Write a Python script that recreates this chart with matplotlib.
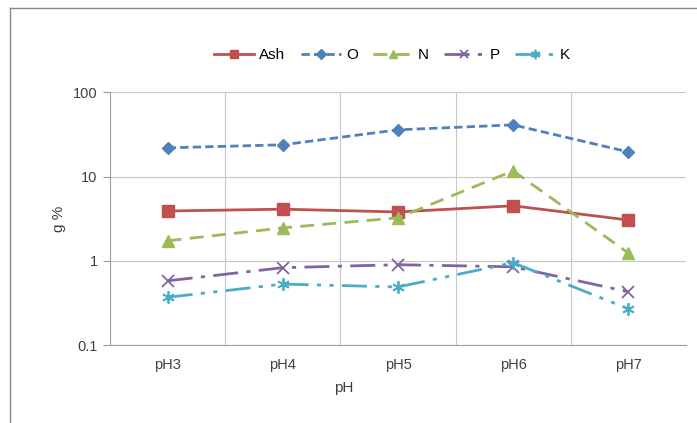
import matplotlib.pyplot as plt
from matplotlib.lines import Line2D

plt.rcParams['font.family'] = ['Liberation Sans', 'DejaVu Sans']

# data
categories = ['pH3', 'pH4', 'pH5', 'pH6', 'pH7']
ash = [3.9, 4.1, 3.8, 4.5, 3.05]
o = [21.9, 23.8, 35.8, 41.0, 19.6]
n = [1.73, 2.46, 3.24, 11.7, 1.24]
p = [0.58, 0.83, 0.90, 0.85, 0.43]
k = [0.37, 0.53, 0.49, 0.95, 0.27]

fig = plt.figure(figsize=(6.97, 4.23), dpi=100)
ax = fig.add_axes([0.158, 0.184, 0.826, 0.598])

x = range(len(categories))
ax.plot(x, ash, color='#C0504D', lw=2, marker='s', ms=8, label='Ash')
ax.plot(x, o, color='#4F81BD', lw=2, ls=(0, (3, 1.5)), marker='D', ms=6.5, label='O')
ax.plot(x, n, color='#9BBB59', lw=2, ls=(0, (5, 3)), marker='^', ms=8, label='N')
ax.plot(x, p, color='#8064A2', lw=2, ls=(0, (9, 3, 1.5, 3)), marker='x', ms=8, mew=1.3, label='P')
ax.plot(x, k, color='#4BACC6', lw=2, ls=(0, (9, 3, 1.5, 3, 1.5, 3)), marker=(6, 2, 0), ms=9, mew=1.3, label='K')

ax.set_yscale('log')
ax.set_ylim(0.1, 100)
ax.set_xlim(-0.5, 4.5)
ax.set_xticks(list(x))
ax.set_xticklabels(categories)
ax.set_yticks([0.1, 1, 10, 100])
ax.set_yticklabels(['0.1', '1', '10', '100'])
ax.yaxis.set_minor_locator(plt.NullLocator())
ax.set_xticks([0.5, 1.5, 2.5, 3.5], minor=True)
ax.tick_params(axis='x', which='both', length=0, labelsize=10.5, colors='#404040', pad=9)
ax.tick_params(axis='y', length=5, labelsize=10.5, colors='#404040', color='#A0A0A0', pad=4)
ax.grid(True, axis='y', color='#C8C8C8', lw=0.8)
ax.grid(True, axis='x', which='minor', color='#C8C8C8', lw=0.8)
for s in ['top', 'right']:
    ax.spines[s].set_visible(False)
for s in ['left', 'bottom']:
    ax.spines[s].set_color('#A0A0A0')

ax.set_xlabel('pH', fontsize=11, color='#404040')
ax.xaxis.set_label_coords(0.405, -0.14)
ax.set_ylabel('g %', fontsize=11, color='#404040', labelpad=5)

ax.legend(loc='center', bbox_to_anchor=(0.49, 1.146), ncol=5, frameon=False,
          fontsize=11, handlelength=2.6, columnspacing=1.0, handletextpad=0.35,
          markerscale=0.75)

# outer chart frame
fig.add_artist(Line2D([10/697, 10/697], [0, 1 - 8/423], color='#888888', lw=1, transform=fig.transFigure))
fig.add_artist(Line2D([10/697, 1], [1 - 8/423, 1 - 8/423], color='#888888', lw=1, transform=fig.transFigure))

fig.savefig('out.png', dpi=100)
